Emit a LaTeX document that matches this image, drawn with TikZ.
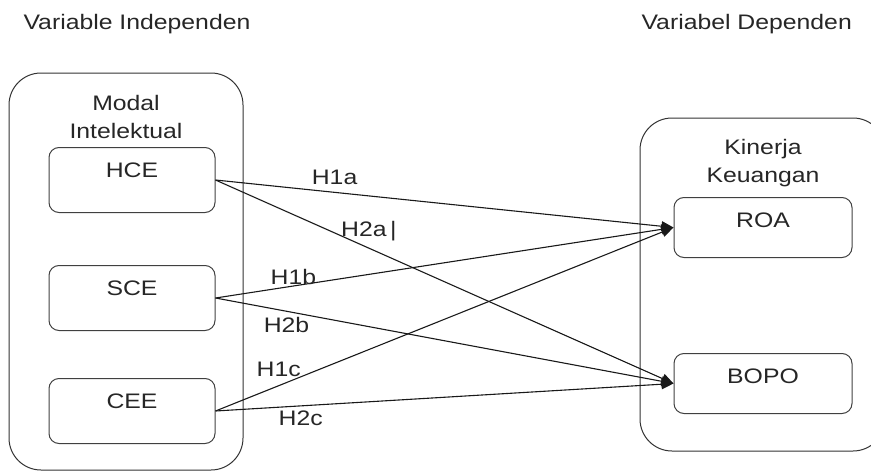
\documentclass[tikz,border=0pt]{standalone}
\usepackage{fontspec}
\setmainfont[FakeStretch=1.18]{Liberation Sans}
\usetikzlibrary{arrows.meta, positioning}

\tikzset{
  frame/.style={draw=black!80, line width=1pt, rounded corners=32pt},
  varbox/.style={draw=black!75, line width=1pt, rounded corners=10pt, anchor=north,
    text height=15pt, inner ysep=15pt},
  hyp/.style={-{Triangle[length=12pt,width=10pt]}, line width=1.1pt, draw=black!90}
}

\begin{document}
\begin{tikzpicture}[x=1pt, y=-1pt,
  every node/.style={font=\fontsize{21}{28}\selectfont, text=black!85}]
\useasboundingbox (0,0) rectangle (871,471);
% Headings
\node[anchor=base west] (indep) at (20,29.5) {Variable Independen};
\node[anchor=base west] (dep) at (638,29.5) {Variabel Dependen};
% Outer groups
\draw[frame] (9,73) rectangle (243,470);
\draw[frame] (640,118) rectangle (885,451);
\node[align=center] (modal) at (126,116.5) {Modal\\Intelektual};
\node[align=center] (kinerja) at (763,163) {Kinerja\\Keuangan};
% Independent variables
\node[varbox, minimum width=166pt, text depth=20pt] (hce) at (132,147) {HCE};
\node[varbox, minimum width=166pt, text depth=20pt] (sce) at (132,265) {SCE};
\node[varbox, minimum width=166pt, text depth=20pt] (cee) at (132,378) {CEE};
% Dependent variables
\node[varbox, minimum width=178pt, text depth=15pt] (roa) at (763,197) {ROA};
\node[varbox, minimum width=178pt, text depth=15pt] (bopo) at (763,353) {BOPO};
% Hypotheses
\draw[hyp] (hce.east) -- node[pos=.26, above=4pt] (h1a) {H1a} (roa.west);
\draw[hyp] (hce.east) -- node[pos=.335, above=3pt] (h2a) {H2a\,|} (bopo.west);
\draw[hyp] (sce.east) -- node[pos=.17, above=1pt, inner sep=0pt] (h1b) {H1b} (roa.west);
\draw[hyp] (sce.east) -- node[pos=.155, below=2pt] (h2b) {H2b} (bopo.west);
\draw[hyp] (cee.east) -- node[pos=.138, above=5pt] (h1c) {H1c} (roa.west);
\draw[hyp] (cee.east) -- node[pos=.186, below=1pt] (h2c) {H2c} (bopo.west);
\end{tikzpicture}
\end{document}
